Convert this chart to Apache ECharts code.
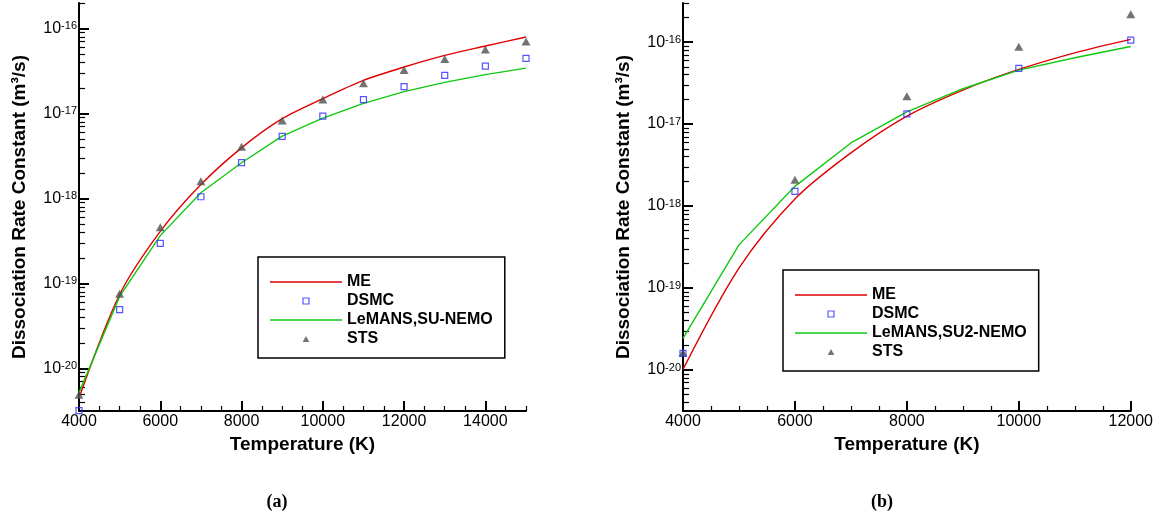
<!DOCTYPE html>
<html><head><meta charset="utf-8">
<script src="https://cdn.jsdelivr.net/npm/echarts@6/dist/echarts.min.js"></script>
<style>html,body{margin:0;padding:0;background:#fff}#c{width:1156px;height:518px}</style>
</head><body><div id="c"></div>
<script>
// ---------- Panel (a) ----------
const tempA   = [4000,5000,6000,7000,8000,9000,10000,11000,12000,13000,14000,15000];
const meA     = [4.5e-21,7.4e-20,4.1e-19,1.46e-18,3.95e-18,8.7e-18,1.50e-17,2.46e-17,3.53e-17,4.84e-17,6.24e-17,7.96e-17];
const dsmcA   = [3.2e-21,4.92e-20,2.97e-19,1.05e-18,2.64e-18,5.38e-18,9.33e-18,1.46e-17,2.07e-17,2.82e-17,3.62e-17,4.47e-17];
const lemansA = [5.2e-21,7.06e-20,3.66e-19,1.17e-18,2.64e-18,5.42e-18,8.84e-18,1.32e-17,1.81e-17,2.33e-17,2.87e-17,3.43e-17];
const stsA    = [4.9e-21,7.59e-20,4.59e-19,1.60e-18,4.06e-18,8.3e-18,1.46e-17,2.27e-17,3.25e-17,4.38e-17,5.66e-17,7.03e-17];
// ---------- Panel (b) ----------
const tempB   = [4000,5000,6000,7000,8000,9000,10000,11000,12000];
const meB     = [1.02e-20,1.75e-19,1.22e-18,4.45e-18,1.25e-17,2.6e-17,4.64e-17,7.4e-17,1.08e-16];
const lemansB = [2.43e-20,3.36e-19,1.74e-18,5.89e-18,1.41e-17,2.7e-17,4.55e-17,6.44e-17,8.85e-17];
const tempPtsB = [4000,6000,8000,10000,12000];
const dsmcB   = [1.6e-20,1.51e-18,1.33e-17,4.77e-17,1.06e-16];
const stsB    = [1.62e-20,2.1e-18,2.19e-17,8.8e-17,2.18e-16];
// ---------- Ticks ----------
const xTicksA = [4000,6000,8000,10000,12000,14000];
const xTicksB = [4000,6000,8000,10000,12000];
const yDecades = [-20,-19,-18,-17,-16];
const namesA = ['ME','DSMC','LeMANS,SU-NEMO','STS'];
const namesB = ['ME','DSMC','LeMANS,SU2-NEMO','STS'];

const FONT = 'Liberation Sans, Arial, Helvetica, sans-serif';
const lg = v => Math.log10(v);
const pairs = (xs, ys) => xs.map((x, i) => [x, lg(ys[i])]);

function minorX(min, max, step, majors) {
  const out = [];
  for (let v = min; v <= max + 1e-9; v += step) if (!majors.includes(v)) out.push(v);
  return out;
}
function minorY(min, max) {
  const out = [];
  for (let n = -22; n <= -15; n++) for (let k = 2; k <= 9; k++) {
    const v = n + Math.log10(k);
    if (v > min && v <= max + 1e-9) out.push(v);
  }
  return out;
}

const yMinA = -20.5, yMaxA = lg(2e-16);
const yMinB = -20.5, yMaxB = lg(3e-16);

function xAxes(grid, min, max, majors) {
  return [{
    type: 'value', gridIndex: grid, min: min, max: max, position: 'bottom',
    axisLine: { show: true, onZero: false, lineStyle: { color: '#000', width: 2 } },
    axisTick: { show: true, inside: true, length: 10, customValues: majors, lineStyle: { color: '#000', width: 2 } },
    axisLabel: { show: true, customValues: majors, color: '#000', fontSize: 16, fontFamily: FONT, margin: 3, formatter: v => String(v) },
    splitLine: { show: false },
    name: 'Temperature (K)', nameLocation: 'middle', nameGap: 19,
    nameTextStyle: { color: '#000', fontSize: 19, fontWeight: 'bold', fontFamily: FONT }
  }, {
    type: 'value', gridIndex: grid, min: min, max: max, position: 'bottom',
    axisLine: { show: false },
    axisTick: { show: true, inside: true, length: 5, customValues: minorX(min, max, 500, majors), lineStyle: { color: '#000', width: 1.2 } },
    axisLabel: { show: false }, splitLine: { show: false }
  }];
}
function yAxes(grid, min, max) {
  return [{
    type: 'value', gridIndex: grid, min: min, max: max, position: 'left',
    axisLine: { show: true, onZero: false, lineStyle: { color: '#000', width: 2 } },
    axisTick: { show: true, inside: true, length: 10, customValues: yDecades, lineStyle: { color: '#000', width: 2 } },
    axisLabel: {
      show: true, customValues: yDecades, margin: 2,
      formatter: v => '{a|10}{b|' + Math.round(v) + '}',
      rich: {
        a: { fontSize: 16, fontFamily: FONT, color: '#000', lineHeight: 16, verticalAlign: 'bottom' },
        b: { fontSize: 11, fontFamily: FONT, color: '#000', lineHeight: 11, verticalAlign: 'top', padding: [0, 0, 8, 0] }
      }
    },
    splitLine: { show: false },
    name: 'Dissociation Rate Constant (m³/s)', nameLocation: 'middle', nameGap: 50,
    nameTextStyle: { color: '#000', fontSize: 19, fontWeight: 'bold', fontFamily: FONT }
  }, {
    type: 'value', gridIndex: grid, min: min, max: max, position: 'left',
    axisLine: { show: false },
    axisTick: { show: true, inside: true, length: 6, customValues: minorY(min, max), lineStyle: { color: '#000', width: 1.2 } },
    axisLabel: { show: false }, splitLine: { show: false }
  }];
}

function seriesFor(xi, yi, names, tLine, me, lem, tPts, dsmc, sts) {
  return [{
    type: 'line', name: names[0], xAxisIndex: xi, yAxisIndex: yi, data: pairs(tLine, me),
    symbol: 'none', smooth: 0.3,
    lineStyle: { color: '#e00000', width: 1.4 }, itemStyle: { color: '#e00000' }, z: 3
  }, {
    type: 'scatter', name: names[1], xAxisIndex: xi, yAxisIndex: yi, data: pairs(tPts, dsmc),
    symbol: 'rect', symbolSize: 6, clip: false,
    itemStyle: { color: 'rgba(0,0,0,0)', borderColor: '#2a2aff', borderWidth: 1.2 }, z: 5
  }, {
    type: 'line', name: names[2], xAxisIndex: xi, yAxisIndex: yi, data: pairs(tLine, lem),
    symbol: 'none', smooth: false,
    lineStyle: { color: '#10c810', width: 1.4 }, itemStyle: { color: '#10c810' }, z: 3
  }, {
    type: 'scatter', name: names[3], xAxisIndex: xi, yAxisIndex: yi, data: pairs(tPts, sts),
    symbol: 'triangle', symbolSize: [9, 8], clip: false,
    itemStyle: { color: '#505050' }, z: 4
  }];
}

const LINE_ICON = 'path://M0 0H72V1.4H0Z';
const SQ_ICON = 'path://M0 0H10V10H0Z';
const TRI_ICON = 'path://M5 0L10 9H0Z';

function legendFor(left, top, names) {
  return {
    orient: 'vertical', left: left, top: top, itemWidth: 72, itemHeight: 6, itemGap: 3, itemTextGap: 12,
    padding: [17, 12, 11, 12], borderColor: '#000', borderWidth: 1.5, backgroundColor: '#fff',
    symbolKeepAspect: true,
    textStyle: { fontSize: 16, fontWeight: 'bold', fontFamily: FONT, color: '#000', lineHeight: 16 },
    data: [
      { name: names[0], icon: LINE_ICON, itemStyle: { color: '#e00000' } },
      { name: names[1], icon: SQ_ICON, itemStyle: { color: 'rgba(0,0,0,0)', borderColor: '#2a2aff', borderWidth: 1.2 } },
      { name: names[2], icon: LINE_ICON, itemStyle: { color: '#10c810' } },
      { name: names[3], icon: TRI_ICON, itemStyle: { color: '#505050' } }
    ],
    selectedMode: false
  };
}

const chart = echarts.init(document.getElementById('c'), null, { renderer: 'canvas' });
chart.setOption({
  animation: false,
  backgroundColor: '#fff',
  grid: [
    { left: 79, top: 3, width: 447, height: 408 },
    { left: 683, top: 3, width: 448, height: 408 }
  ],
  xAxis: [...xAxes(0, 4000, 15000, xTicksA), ...xAxes(1, 4000, 12000, xTicksB)],
  yAxis: [...yAxes(0, yMinA, yMaxA), ...yAxes(1, yMinB, yMaxB)],
  legend: [legendFor(258, 257, namesA), legendFor(783, 270, namesB)],
  series: [
    ...seriesFor(0, 0, namesA, tempA, meA, lemansA, tempA, dsmcA, stsA),
    ...seriesFor(2, 2, namesB, tempB, meB, lemansB, tempPtsB, dsmcB, stsB)
  ],
  graphic: [
    { type: 'text', x: 277, y: 502, style: { text: '(a)', font: 'bold 18px "Liberation Serif", "Times New Roman", serif', align: 'center', verticalAlign: 'middle', fill: '#000' } },
    { type: 'text', x: 882, y: 502, style: { text: '(b)', font: 'bold 18px "Liberation Serif", "Times New Roman", serif', align: 'center', verticalAlign: 'middle', fill: '#000' } }
  ]
});
</script>
</body></html>
